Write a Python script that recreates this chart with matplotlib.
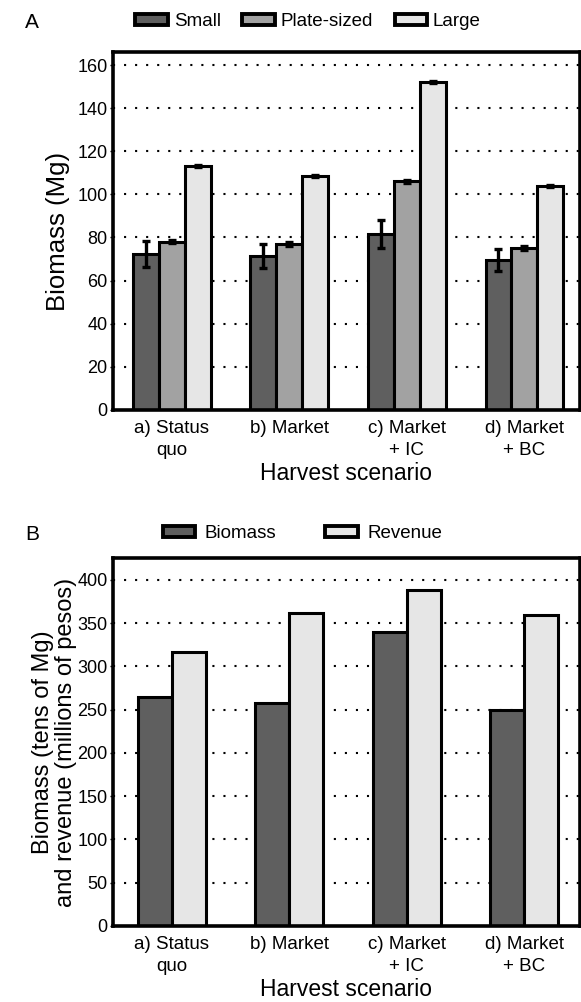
import numpy as np
import matplotlib
matplotlib.use("Agg")
import matplotlib.pyplot as plt
from matplotlib.patches import Patch

plt.rcParams['font.family'] = ['Liberation Sans', 'DejaVu Sans']

# data
scenarios = ["a) Status\nquo", "b) Market", "c) Market\n+ IC", "d) Market\n+ BC"]
small = [72.5, 71.5, 81.5, 69.5]
small_err = [6.0, 5.5, 6.5, 5.0]
plate = [78.0, 77.0, 106.0, 75.0]
plate_err = [0.8, 0.8, 0.8, 0.8]
large = [113.0, 108.5, 152.0, 104.0]
large_err = [0.5, 0.5, 0.5, 0.5]
biomass = [265, 257, 340, 249]
revenue = [317, 362, 388, 359]

c_dark, c_mid, c_light = "#5f5f5f", "#a2a2a2", "#e6e6e6"
lw = 2.2

fig = plt.figure(figsize=(5.81, 10.02), dpi=100)
axA = fig.add_axes([0.1945, 0.591, 0.803, 0.357])
axB = fig.add_axes([0.1945, 0.076, 0.803, 0.367])


def style(ax, yticks, ymax):
    ax.set_ylim(0, ymax)
    ax.set_xlim(-0.5, 3.47)
    ax.set_yticks(yticks)
    for y in yticks[1:]:
        ax.axhline(y, color="black", ls=(0, (1, 4.3)), lw=1.5, zorder=0)
    for s in ax.spines.values():
        s.set_linewidth(2.6)
    ax.tick_params(axis="y", labelsize=13, length=2, width=1, pad=2)
    ax.tick_params(axis="x", length=0, labelsize=13.5, pad=7)
    ax.set_xticks(np.arange(4))
    ax.set_xticklabels(scenarios, linespacing=1.45)
    ax.set_xlabel("Harvest scenario", fontsize=16.5, labelpad=2)


x = np.arange(4)
w = 0.22
errkw = dict(ecolor="black", elinewidth=2.4, capsize=3, capthick=2.4)
axA.bar(x - w, small, w, color=c_dark, edgecolor="black", lw=lw, yerr=small_err, error_kw=errkw, zorder=2)
axA.bar(x, plate, w, color=c_mid, edgecolor="black", lw=lw, yerr=plate_err, error_kw=errkw, zorder=2)
axA.bar(x + w, large, w, color=c_light, edgecolor="black", lw=lw, yerr=large_err, error_kw=errkw, zorder=2)
style(axA, np.arange(0, 161, 20), 166)
axA.set_ylabel("Biomass (Mg)", fontsize=18.5, labelpad=5)

wb = 0.29
axB.bar(x - wb / 2, biomass, wb, color=c_dark, edgecolor="black", lw=lw, zorder=2)
axB.bar(x + wb / 2, revenue, wb, color=c_light, edgecolor="black", lw=lw, zorder=2)
style(axB, np.arange(0, 401, 50), 425)
axB.set_ylabel("Biomass (tens of Mg)\nand revenue (millions of pesos)", fontsize=17,
               labelpad=0, linespacing=1.05)

hA = [Patch(facecolor=c, edgecolor="black", lw=2.8) for c in (c_dark, c_mid, c_light)]
axA.legend(hA, ["Small", "Plate-sized", "Large"], loc="center", bbox_to_anchor=(0.418, 1.085),
           ncol=3, frameon=False, fontsize=13.5, handlelength=1.75, handleheight=0.5,
           handletextpad=0.3, columnspacing=1.15)
hB = [Patch(facecolor=c, edgecolor="black", lw=2.8) for c in (c_dark, c_light)]
axB.legend(hB, ["Biomass", "Revenue"], loc="center", bbox_to_anchor=(0.406, 1.066),
           ncol=2, frameon=False, fontsize=13.5, handlelength=1.75, handleheight=0.5,
           handletextpad=0.5, columnspacing=2.6)

fig.text(0.043, 0.978, "A", fontsize=15, va="center")
fig.text(0.043, 0.467, "B", fontsize=15, va="center")

fig.savefig("out.png", dpi=100)
